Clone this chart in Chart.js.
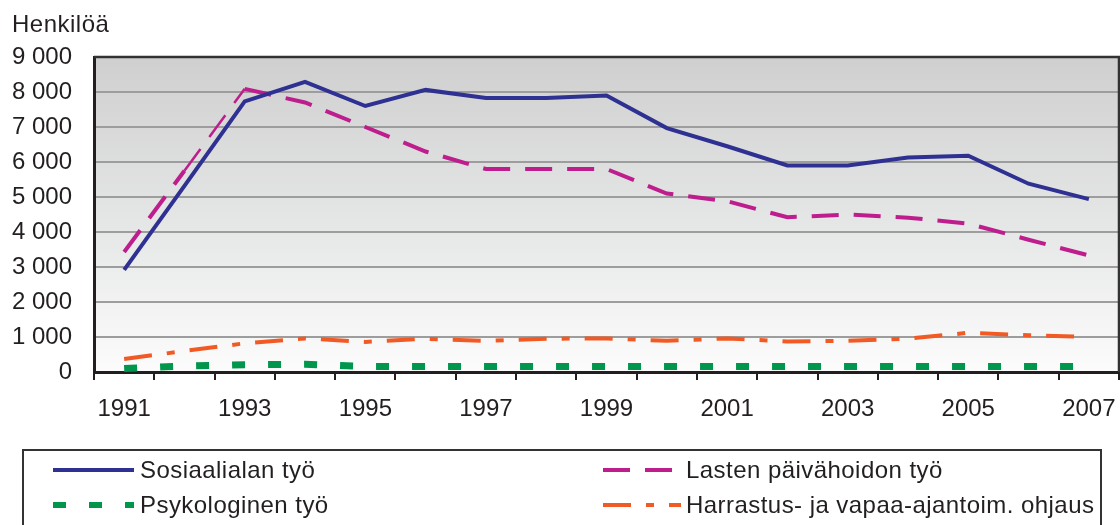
<!DOCTYPE html>
<html><head><meta charset="utf-8">
<script src="https://cdn.jsdelivr.net/npm/chart.js@4.4.1/dist/chart.umd.min.js"></script>
<style>html,body{margin:0;padding:0;background:#fff}#wrap{width:1120px;height:525px;position:relative}</style>
</head><body><div id="wrap"><canvas id="c" width="1120" height="525"></canvas></div>
<script>
const years = ['1991','1992','1993','1994','1995','1996','1997','1998','1999','2000','2001','2002','2003','2004','2005','2006','2007'];
const xTickLabels = ['1991','','1993','','1995','','1997','','1999','','2001','','2003','','2005','','2007'];
const yTickLabels = {0:'0',1000:'1 000',2000:'2 000',3000:'3 000',4000:'4 000',5000:'5 000',6000:'6 000',7000:'7 000',8000:'8 000',9000:'9 000'};
const sosiaali = [2920, 5320, 7730, 8290, 7600, 8060, 7830, 7830, 7900, 6970, 6450, 5900, 5900, 6130, 6180, 5380, 4940];
const lasten   = [3430, 5750, 8090, 7700, 7000, 6300, 5800, 5800, 5800, 5100, 4880, 4420, 4500, 4410, 4240, 3780, 3330];
const psyko    = [100, 170, 210, 220, 160, 160, 160, 160, 160, 160, 160, 160, 160, 160, 160, 160, 160];
const harrastus= [370, 600, 820, 960, 860, 950, 890, 950, 960, 890, 960, 870, 890, 950, 1120, 1050, 1000];
const seriesNames = ['Sosiaalialan työ','Lasten päivähoidon työ','Psykologinen työ','Harrastus- ja vapaa-ajantoim. ohjaus'];
const yTitle = 'Henkilöä';

const FONT = '"Liberation Sans", Arial, sans-serif';
const TXT = '#231f20';

const styles = [
  {color:'#2e3192', width:4, dash:[]},
  {color:'#be1e8d', width:4, dash:[27,15]},
  {color:'#00964b', width:7, dash:[13,23]},
  {color:'#f15a24', width:4, dash:[28,15,8,15]}
];

const bgPlugin = {
  id:'bg',
  beforeDraw(chart){
    const {ctx, chartArea:a} = chart;
    const g = ctx.createLinearGradient(0,a.top,0,a.bottom);
    g.addColorStop(0,'#cfcfcf');
    g.addColorStop(0.55,'#e6e7e7');
    g.addColorStop(1,'#fcfcfc');
    ctx.save();
    ctx.fillStyle = g;
    ctx.fillRect(a.left,a.top,a.right-a.left,a.bottom-a.top);
    ctx.restore();
  },
  afterDraw(chart){
    const {ctx, chartArea:a} = chart;
    ctx.save();
    ctx.strokeStyle = '#333';
    ctx.lineWidth = 2.5;
    ctx.beginPath();
    ctx.moveTo(a.left, a.top); ctx.lineTo(a.right, a.top); ctx.lineTo(a.right, a.bottom);
    ctx.stroke();
    // title
    ctx.fillStyle = TXT;
    ctx.font = '24px ' + FONT;
    ctx.letterSpacing = '0.5px';
    ctx.textBaseline = 'alphabetic';
    ctx.textAlign = 'left';
    ctx.fillText(yTitle, 12, 32);
    // legend box
    ctx.strokeStyle = '#333';
    ctx.lineWidth = 2;
    ctx.strokeRect(23, 450, 1078, 90);
    const pos = [
      {x0:53, x1:134, tx:140, y:470},
      {x0:603, x1:681, tx:686, y:470},
      {x0:53, x1:134, tx:140, y:505},
      {x0:603, x1:681, tx:686, y:505}
    ];
    pos.forEach((p,i)=>{
      const s = styles[i];
      ctx.save();
      ctx.strokeStyle = s.color;
      ctx.lineWidth = s.width === 7 ? 6 : s.width;
      ctx.setLineDash(s.dash);
      ctx.lineCap = 'butt';
      ctx.beginPath();
      ctx.moveTo(p.x0, p.y); ctx.lineTo(p.x1, p.y);
      ctx.stroke();
      ctx.restore();
      ctx.fillStyle = TXT;
      ctx.font = '24px ' + FONT;
      ctx.letterSpacing = '0.45px';
      ctx.textBaseline = 'middle';
      ctx.fillText(seriesNames[i], p.tx, p.y + 1);
    });
    ctx.restore();
  }
};

const data = [sosiaali, lasten, psyko, harrastus];
new Chart(document.getElementById('c'), {
  type:'line',
  data:{
    labels: years,
    datasets: data.map((d,i)=>({
      label: seriesNames[i],
      data: d,
      borderColor: styles[i].color,
      borderWidth: styles[i].width,
      borderDash: styles[i].dash,
      borderCapStyle: 'butt',
      borderJoinStyle: 'miter',
      pointRadius: 0,
      tension: 0,
      fill: false,
      order: i,
      segment: i === 1 ? {borderWidth: ctx => ctx.p0DataIndex === 1 ? 2.5 : 4} : undefined
    }))
  },
  options:{
    responsive:false,
    animation:false,
    devicePixelRatio:1,
    layout:{padding:{top:57, right:1, left:0, bottom:0}},
    plugins:{legend:{display:false}, tooltip:{enabled:false}, title:{display:false}},
    scales:{
      x:{
        type:'category',
        offset:true,
        grid:{offset:true, drawOnChartArea:false, drawTicks:true, tickLength:8, color:'#231f20', lineWidth:2},
        border:{display:true, color:'#231f20', width:3},
        ticks:{autoSkip:false, maxRotation:0, minRotation:0, padding:15, color:TXT,
          font:{family:FONT, size:24},
          callback:(v,i)=>xTickLabels[i]},
        afterFit:s=>{s.height = 153; s.paddingLeft = 0; s.paddingRight = 0;}
      },
      y:{
        min:0, max:9000,
        grid:{color:'#9d9d9d', lineWidth:2, drawTicks:false},
        border:{display:true, color:'#231f20', width:3},
        ticks:{stepSize:1000, padding:22, color:TXT, font:{family:FONT, size:24},
          callback:v=>yTickLabels[v]},
        afterFit:s=>{s.width = 94;}
      }
    }
  },
  plugins:[bgPlugin]
});
</script></body></html>
